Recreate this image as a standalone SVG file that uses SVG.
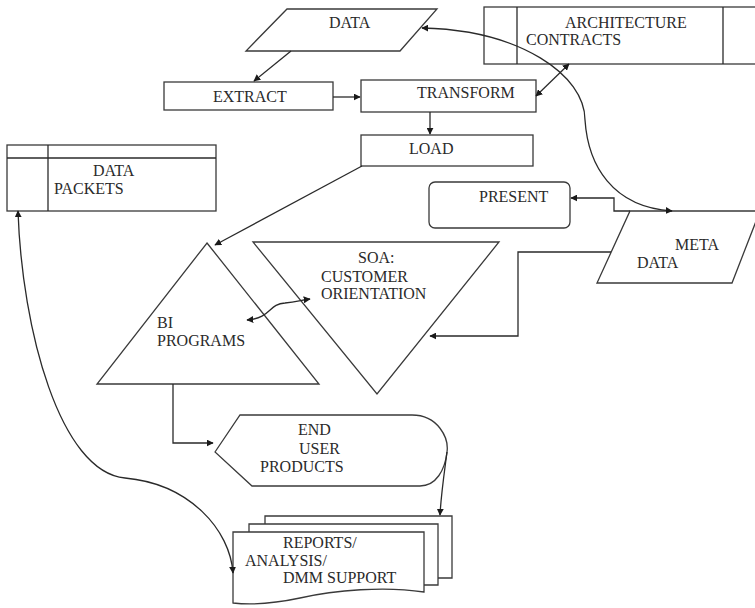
<svg xmlns="http://www.w3.org/2000/svg" width="755" height="608" viewBox="0 0 755 608">
  <style>
    .shape { fill: #fff; stroke: #3a3a3a; stroke-width: 1.3; }
    .line { fill: none; stroke: #2a2a2a; stroke-width: 1.3; }
    .lbl { font-family: "Liberation Serif", "Times New Roman", serif; font-size: 16px; fill: #2a2a2a; }
  </style>
  <defs>
    <marker id="arrow" viewBox="0 0 10 10" refX="9" refY="5" markerWidth="7" markerHeight="7" markerUnits="userSpaceOnUse" orient="auto-start-reverse">
      <path d="M0,0 L10,5 L0,10 Z" fill="#1a1a1a"/>
    </marker>
  </defs>
  <rect width="755" height="608" fill="#fff"/>

  <g id="data">
    <polygon class="shape" points="287,9 437,9 400,51 246,51"/>
    <text class="lbl" x="329" y="28">DATA</text>
  </g>

  <g id="architecture-contracts">
    <rect class="shape" x="484" y="7" width="272" height="57"/>
    <line class="line" x1="517" y1="7" x2="517" y2="64"/>
    <line class="line" x1="723" y1="7" x2="723" y2="64"/>
    <text class="lbl" x="565" y="28">ARCHITECTURE</text>
    <text class="lbl" x="526" y="45">CONTRACTS</text>
  </g>

  <g id="extract">
    <rect class="shape" x="164" y="82" width="169" height="28"/>
    <text class="lbl" x="213" y="102">EXTRACT</text>
  </g>

  <g id="transform">
    <rect class="shape" x="361" y="80" width="175" height="32"/>
    <text class="lbl" x="417" y="98">TRANSFORM</text>
  </g>

  <g id="load">
    <rect class="shape" x="361" y="135" width="172" height="31"/>
    <text class="lbl" x="409" y="154">LOAD</text>
  </g>

  <g id="data-packets">
    <rect class="shape" x="7" y="145" width="209" height="66"/>
    <line class="line" x1="7" y1="158" x2="216" y2="158"/>
    <line class="line" x1="48" y1="145" x2="48" y2="211"/>
    <text class="lbl" x="93" y="176">DATA</text>
    <text class="lbl" x="54" y="194">PACKETS</text>
  </g>

  <g id="present">
    <rect class="shape" x="429" y="182" width="141" height="46" rx="6"/>
    <text class="lbl" x="479" y="202">PRESENT</text>
  </g>

  <g id="meta-data">
    <polygon class="shape" points="630,211 760,211 732,283 597,283"/>
    <text class="lbl" x="675" y="250">META</text>
    <text class="lbl" x="637" y="268">DATA</text>
  </g>

  <g id="bi-programs">
    <polygon class="shape" points="207,243 319,384 97,384"/>
    <text class="lbl" x="157" y="328">BI</text>
    <text class="lbl" x="157" y="346">PROGRAMS</text>
  </g>

  <g id="soa">
    <polygon class="shape" points="253,242 499,242 377,394"/>
    <text class="lbl" x="358" y="263">SOA:</text>
    <text class="lbl" x="321" y="282">CUSTOMER</text>
    <text class="lbl" x="321" y="299">ORIENTATION</text>
  </g>

  <g id="end-user-products">
    <path class="shape" d="M215,452 L240,415 L412,415 C438,415 449,438 447,452 C445,470 436,486 420,486 L252,486 Z"/>
    <text class="lbl" x="298" y="435">END</text>
    <text class="lbl" x="299" y="454">USER</text>
    <text class="lbl" x="260" y="472">PRODUCTS</text>
  </g>

  <g id="reports">
    <path class="shape" d="M265,524 L265,516 L452,516 L452,578 L438,578"/>
    <path class="shape" d="M249,532 L249,524 L438,524 L438,585 L424,585"/>
    <path class="shape" d="M233,532 L424,532 L424,592 C385,586 335,590 300,598 C272,604 252,605 233,603 Z"/>
    <text class="lbl" x="283" y="548">REPORTS/</text>
    <text class="lbl" x="245" y="566">ANALYSIS/</text>
    <text class="lbl" x="283" y="583">DMM SUPPORT</text>
  </g>

  <g id="connectors">
    <!-- data flow through the ETL steps -->
    <line class="line" x1="291" y1="51" x2="254" y2="81" marker-end="url(#arrow)"/>
    <line class="line" x1="333" y1="97" x2="360" y2="97" marker-end="url(#arrow)"/>
    <line class="line" x1="430" y1="112" x2="430" y2="134" marker-end="url(#arrow)"/>
    <line class="line" x1="536" y1="96" x2="569" y2="64" marker-start="url(#arrow)" marker-end="url(#arrow)"/>
    <line class="line" x1="362" y1="166" x2="215" y2="245" marker-end="url(#arrow)"/>
    <!-- metadata links -->
    <path class="line" d="M422,28 C520,30 585,75 585,120 C588,165 612,207 672,211" marker-start="url(#arrow)" marker-end="url(#arrow)"/>
    <path class="line" d="M630,211 L614,211 L614,198 L571,198" marker-end="url(#arrow)"/>
    <path class="line" d="M611,252 L518,252 L518,336 L430,336" marker-end="url(#arrow)"/>
    <!-- programs and outputs -->
    <path class="line" d="M247,320 C272,318 268,304 285,303 C296,302 302,300 310,299" marker-start="url(#arrow)" marker-end="url(#arrow)"/>
    <path class="line" d="M173,384 L173,443 L213,443" marker-end="url(#arrow)"/>
    <path class="line" d="M447,452 C444,475 441,495 440,515" marker-end="url(#arrow)"/>
    <path class="line" d="M18,211 C22,330 60,472 125,478 C190,484 230,530 233,573" marker-start="url(#arrow)" marker-end="url(#arrow)"/>
  </g>
</svg>
